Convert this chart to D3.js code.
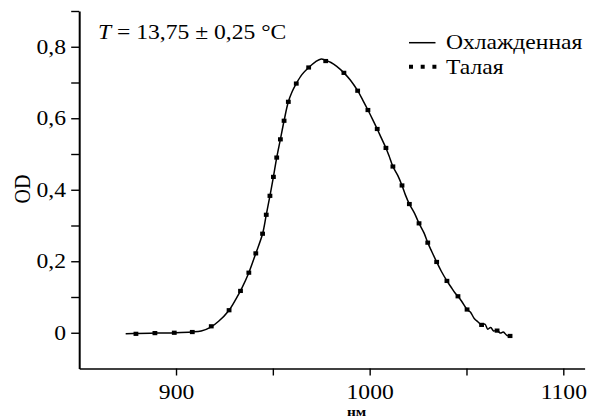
<!DOCTYPE html>
<html>
<head>
<meta charset="utf-8">
<script src="https://cdn.jsdelivr.net/npm/d3@7"></script>
<style>
  body { margin: 0; background: #fff; }
  svg { display: block; }
  text { font-family: "Liberation Serif", "Times New Roman", serif; fill: #000; }
</style>
</head>
<body>
<svg width="590" height="419"></svg>
<script>
// Охлажденная (solid line)
const ohlNm = [874, 880, 890, 900, 908, 913, 918, 922, 927, 931, 934, 937.6, 941.2, 944.7, 946.6, 948.5, 950.3, 952.0, 953.9, 955.8, 958, 960, 962.1, 965, 968.5, 972, 975, 977.3, 980, 983, 986.7, 990, 993.8, 996.5, 999.1, 1001.5, 1003.9, 1006, 1008.4, 1010, 1012, 1014.5, 1016.7, 1018.5, 1020.5, 1023, 1025.5, 1028, 1030, 1032, 1034.6, 1037, 1039.9, 1042, 1044, 1045.6, 1047.5, 1050.3, 1052, 1054, 1056, 1057.8, 1059.5, 1061, 1062.5, 1064, 1065.8, 1067.5, 1069, 1071, 1072.5]
const ohlOd = [-0.003, -0.002, -0.001, 0, 0.002, 0.005, 0.016, 0.032, 0.060, 0.095, 0.125, 0.168, 0.222, 0.277, 0.330, 0.383, 0.436, 0.490, 0.541, 0.593, 0.646, 0.675, 0.697, 0.722, 0.742, 0.758, 0.766, 0.762, 0.756, 0.745, 0.727, 0.707, 0.677, 0.650, 0.623, 0.597, 0.570, 0.545, 0.517, 0.495, 0.465, 0.440, 0.412, 0.385, 0.360, 0.336, 0.306, 0.280, 0.252, 0.228, 0.198, 0.172, 0.145, 0.128, 0.112, 0.102, 0.088, 0.065, 0.058, 0.040, 0.030, 0.022, 0.024, 0.010, 0.015, 0.005, 0.007, -0.001, 0.002, -0.008, -0.009]

// Талая (square dots)
const talNm = [879.3, 889.1, 899.1, 908.4, 918.2, 927.4, 933.3, 937.6, 941.2, 944.7, 946.6, 948.5, 950.3, 952.0, 953.9, 955.8, 958.0, 962.1, 968.5, 977.3, 986.7, 993.8, 999.1, 1003.9, 1008.4, 1012.0, 1016.7, 1020.5, 1025.5, 1030.0, 1034.6, 1039.9, 1045.6, 1050.3, 1057.8, 1065.8, 1072.5]
const talOd = [-0.003, -0.001, 0, 0.002, 0.018, 0.063, 0.117, 0.168, 0.222, 0.277, 0.330, 0.383, 0.436, 0.490, 0.541, 0.593, 0.646, 0.697, 0.742, 0.760, 0.727, 0.677, 0.623, 0.570, 0.517, 0.465, 0.412, 0.360, 0.306, 0.252, 0.198, 0.145, 0.102, 0.065, 0.022, 0.006, -0.009]

const xTicks = [900, 950, 1000, 1050, 1100]
const yTicks = [0, 0.1, 0.2, 0.3, 0.4, 0.5, 0.6, 0.7, 0.8, 0.9]
const seriesNames = ["Охлажденная", "Талая"]

const stretch = 1.18
const svg = d3.select("svg")

const x = d3.scaleLinear().domain([850, 1111]).range([79.2, 584.6])
const y = d3.scaleLinear().domain([-0.1, 0.9]).range([368.5, 11])

const fmt = d => d.toString().replace(".", ",")

// x axis
const gx = svg.append("g")
    .attr("transform", `translate(0,${y(-0.1)})`)
    .call(d3.axisBottom(x).tickValues(xTicks).tickSize(7).tickSizeOuter(0)
        .tickFormat(d => d % 100 === 0 ? d : ""))
gx.select(".domain").attr("stroke-width", 1.6)
gx.selectAll(".tick line").attr("stroke-width", 1.4)
gx.selectAll(".tick text")
    .attr("y", 30.5).attr("dy", 0)
    .attr("font-size", 20)
    .attr("transform", `scale(${stretch},1)`)

// y axis
const gy = svg.append("g")
    .attr("transform", `translate(${x(850)},0)`)
    .call(d3.axisLeft(y).tickValues(yTicks).tickSize(8).tickSizeOuter(0)
        .tickFormat(d => Math.round(d * 10) % 2 === 0 && d < 0.85 ? fmt(+d.toFixed(1)) : ""))
gy.select(".domain").attr("stroke-width", 2)
gy.selectAll(".tick line").attr("stroke-width", 1.4)
gy.selectAll(".tick text")
    .attr("x", -11.2).attr("dy", "0.33em")
    .attr("font-size", 20)
    .attr("transform", `scale(${stretch},1)`)
svg.selectAll(".tick text").attr("font-family", "Liberation Serif").attr("fill", "#000")

// curve
const ohl = ohlNm.map((d, i) => [d, ohlOd[i]])
svg.append("path")
    .datum(ohl)
    .attr("fill", "none")
    .attr("stroke", "#000")
    .attr("stroke-width", 1.5)
    .attr("d", d3.line().x(d => x(d[0])).y(d => y(d[1])).curve(d3.curveCatmullRom))

const tal = talNm.map((d, i) => [d, talOd[i]])
svg.selectAll("rect.tal")
    .data(tal)
    .enter().append("rect")
    .attr("class", "tal")
    .attr("x", d => x(d[0]) - 2.4)
    .attr("y", d => y(d[1]) - 2.1)
    .attr("width", 4.8)
    .attr("height", 4.2)
    .attr("fill", "#000")

// labels
svg.append("text")
    .attr("transform", `translate(30,189) scale(${stretch},1) rotate(-90)`)
    .attr("text-anchor", "middle")
    .attr("font-size", 20)
    .text("OD")

svg.append("text")
    .attr("transform", `translate(347,415.5) scale(${stretch},1)`)
    .attr("font-size", 13)
    .attr("font-weight", "bold")
    .text("нм")

const note = svg.append("text")
    .attr("transform", `translate(98,38.5) scale(${stretch},1)`)
    .attr("font-size", 20)
note.append("tspan").attr("font-style", "italic").text("T")
note.append("tspan").text(" = 13,75 ± 0,25 °C")

// legend
const legend = svg.append("g")
legend.append("line")
    .attr("x1", 409).attr("x2", 435.5).attr("y1", 42.7).attr("y2", 42.7)
    .attr("stroke", "#000").attr("stroke-width", 1.5)
legend.append("line")
    .attr("x1", 409).attr("x2", 436.5).attr("y1", 66.7).attr("y2", 66.7)
    .attr("stroke", "#000").attr("stroke-width", 4)
    .attr("stroke-dasharray", "4,7.7")
legend.selectAll("text")
    .data(seriesNames)
    .enter().append("text")
    .attr("transform", (d, i) => `translate(446,${48.5 + i * 25.5}) scale(${stretch},1)`)
    .attr("font-size", 20)
    .text(d => d)
</script>
</body>
</html>
